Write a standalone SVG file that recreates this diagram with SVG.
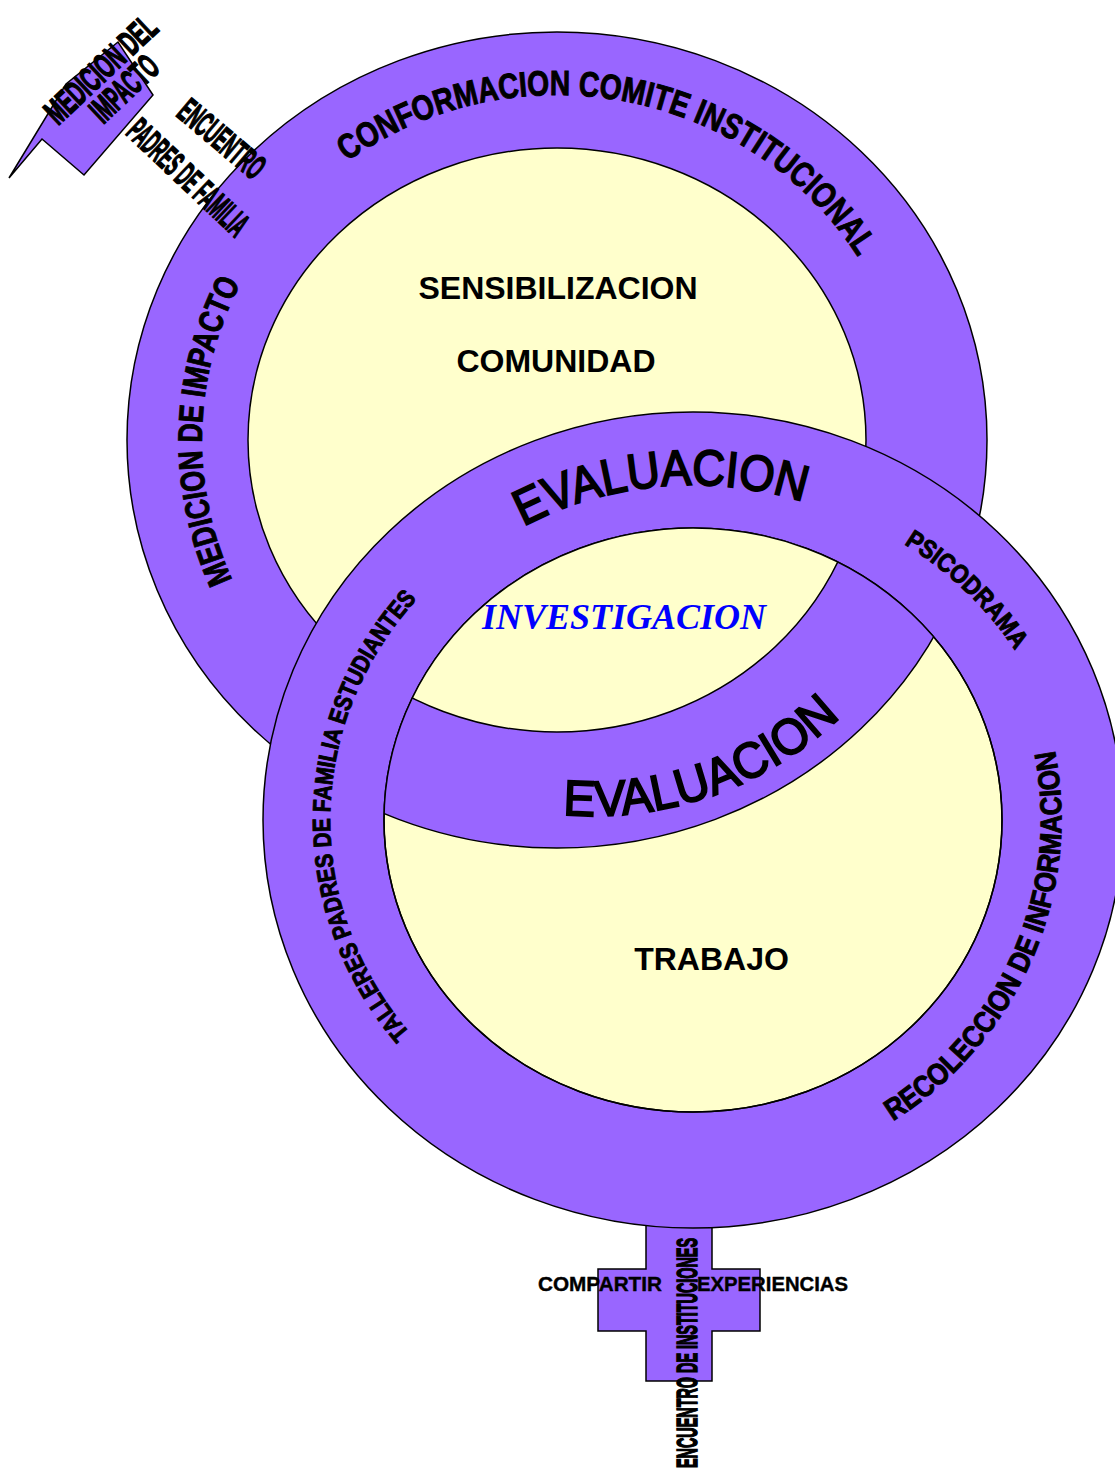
<svg xmlns="http://www.w3.org/2000/svg" width="1115" height="1471" viewBox="0 0 1115 1471">
  <style>
    .ring { fill: #9966FF; stroke: #000; stroke-width: 1.5; }
    .hole { fill: #FFFFCC; stroke: #000; stroke-width: 1.5; }
    .edge { fill: none; stroke: #000; stroke-width: 1.5; }
    .lbl { font-family: "Liberation Sans", Arial, sans-serif; font-weight: bold; fill: #000; }
    .wa { font-family: "Liberation Sans", Arial, sans-serif; font-weight: bold; fill: #000; stroke: #000; stroke-width: 1; }
    .wa2 { font-family: "Liberation Sans", Arial, sans-serif; font-weight: normal; fill: #000; stroke: #000; stroke-width: 2; }
    .cond { font-family: "Liberation Sans", Arial, sans-serif; font-weight: bold; fill: #000; stroke: #000; stroke-width: 1.6; }
    .inv { font-family: "Liberation Serif", "Times New Roman", serif; font-weight: bold; font-style: italic; fill: #0000FF; }
  </style>
  <defs>
    <clipPath id="lowerInner">
      <ellipse cx="693" cy="820" rx="309" ry="292"/>
    </clipPath>
    <path id="p-conf" d="M 347.3,161.6 A 355,345 0 0,1 890.6,322.0"/>
    <path id="p-med" d="M 232.4,579.8 A 355,345 0 0,1 266.2,242.1"/>
    <path id="p-eval1" d="M 523.4,526.4 A 352,335 0 0,1 858.3,524.2"/>
    <path id="p-eval2" d="M 563.0,814.7 A 359,359 0 0,0 875.9,678.0"/>
    <path id="p-psico" d="M 904.0,544.0 A 375,350 0 0,1 1045.0,705.0"/>
    <path id="p-recol" d="M 893.0,1121.0 A 369,360 0 0,0 1039.7,696.9"/>
    <path id="p-tall" d="M 410.0,1033.0 A 362,340 0 0,1 450.0,567.3"/>
  </defs>

  <g id="male-arrow">
    <polygon class="ring" points="9,178 66,84 118,42 153,95 84,175 42,139"/>
  </g>

  <g id="female-cross">
    <polygon class="ring" points="646,1215 712,1215 712,1269 760,1269 760,1331 712,1331 712,1381 646,1381 646,1331 598,1331 598,1269 646,1269"/>
  </g>

  <g id="upper-ring">
    <ellipse class="ring" cx="557" cy="440" rx="430" ry="408"/>
    <ellipse class="hole" cx="557" cy="440" rx="309" ry="292"/>
  </g>

  <g id="lower-ring">
    <ellipse class="ring" cx="693" cy="820" rx="430" ry="408"/>
    <ellipse class="hole" cx="693" cy="820" rx="309" ry="292"/>
  </g>

  <g id="interlock">
    <g clip-path="url(#lowerInner)">
      <ellipse class="ring" cx="557" cy="440" rx="430" ry="408"/>
      <ellipse class="hole" cx="557" cy="440" rx="309" ry="292"/>
    </g>
    <ellipse class="edge" cx="693" cy="820" rx="309" ry="292"/>
  </g>

  <g id="ring-labels">
    <text class="wa" font-size="35"><textPath href="#p-conf" textLength="580" lengthAdjust="spacingAndGlyphs">CONFORMACION COMITE INSTITUCIONAL</textPath></text>
    <text class="wa" font-size="34"><textPath href="#p-med" textLength="307" lengthAdjust="spacingAndGlyphs">MEDICION DE IMPACTO</textPath></text>
    <text class="wa2" font-size="50"><textPath href="#p-eval1" textLength="288" lengthAdjust="spacingAndGlyphs">EVALUACION</textPath></text>
    <text class="wa2" font-size="50"><textPath href="#p-eval2" textLength="303" lengthAdjust="spacingAndGlyphs">EVALUACION</textPath></text>
    <text class="wa" font-size="26"><textPath href="#p-psico" textLength="155" lengthAdjust="spacingAndGlyphs">PSICODRAMA</textPath></text>
    <text class="wa" font-size="30"><textPath href="#p-recol" textLength="430" lengthAdjust="spacingAndGlyphs">RECOLECCION DE INFORMACION</textPath></text>
    <text class="wa" font-size="25"><textPath href="#p-tall" textLength="475" lengthAdjust="spacingAndGlyphs">TALLERES PADRES DE FAMILIA ESTUDIANTES</textPath></text>
  </g>

  <g id="center-labels">
    <text class="lbl" font-size="32" x="558" y="299" text-anchor="middle">SENSIBILIZACION</text>
    <text class="lbl" font-size="32" x="556" y="372" text-anchor="middle">COMUNIDAD</text>
    <text class="inv" font-size="36" x="482" y="629">INVESTIGACION</text>
    <text class="lbl" font-size="32" x="711.5" y="970" text-anchor="middle">TRABAJO</text>
  </g>

  <g id="cross-labels">
    <text class="lbl" font-size="21" y="1291" stroke="#000" stroke-width="0.4"><tspan x="538" textLength="124" lengthAdjust="spacingAndGlyphs">COMPARTIR</tspan><tspan x="697" textLength="151" lengthAdjust="spacingAndGlyphs">EXPERIENCIAS</tspan></text>
    <text class="cond" font-size="30" transform="translate(697,1468) rotate(-90)" textLength="230" lengthAdjust="spacingAndGlyphs">ENCUENTRO DE INSTITUCIONES</text>
  </g>

  <g id="arrow-labels">
    <g transform="translate(109,78) rotate(-43.2)">
      <text class="cond" font-size="35" x="0" y="0" text-anchor="middle" textLength="140" lengthAdjust="spacingAndGlyphs">MEDICION DEL</text>
      <text class="cond" font-size="35" x="3.8" y="30" text-anchor="middle" textLength="80" lengthAdjust="spacingAndGlyphs">IMPACTO</text>
    </g>
    <text class="cond" font-size="35" transform="translate(214,148) rotate(40.1)" text-anchor="middle" textLength="102" lengthAdjust="spacingAndGlyphs">ENCUENTRO</text>
    <text class="cond" font-size="35" transform="translate(180,186) rotate(43.4)" text-anchor="middle" textLength="152" lengthAdjust="spacingAndGlyphs">PADRES DE FAMILIA</text>
  </g>
</svg>
